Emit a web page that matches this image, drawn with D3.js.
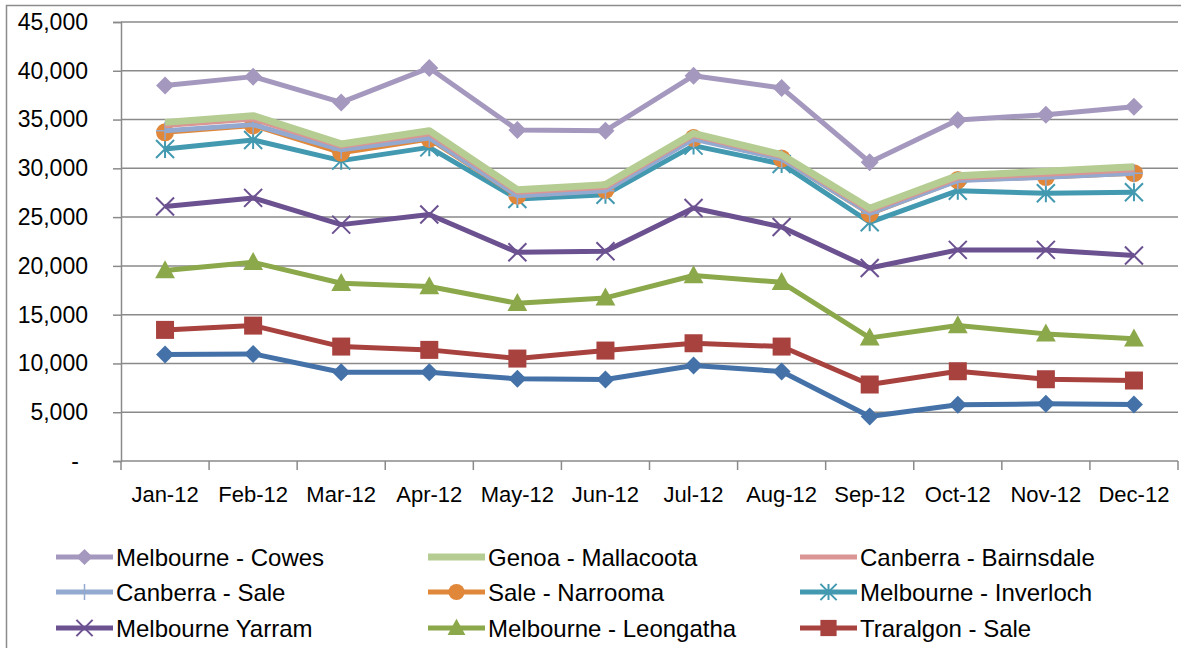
<!DOCTYPE html>
<html>
<head>
<meta charset="utf-8">
<script src="https://cdn.jsdelivr.net/npm/d3@7"></script>
<style>
  html, body { margin: 0; padding: 0; background: #fff; }
  svg { display: block; }
  text { font-family: "Liberation Sans", Arial, sans-serif; fill: #000; }
</style>
</head>
<body>
<svg id="chart" width="1181" height="648"></svg>
<script>
// Monthly figures per route, 2012
const months = ["Jan-12","Feb-12","Mar-12","Apr-12","May-12","Jun-12","Jul-12","Aug-12","Sep-12","Oct-12","Nov-12","Dec-12"];
const yTicks = [0, 5000, 10000, 15000, 20000, 25000, 30000, 35000, 40000, 45000];

const melbourneCowes      = [38480, 39400, 36760, 40290, 33930, 33860, 39500, 38240, 30620, 34960, 35500, 36320];
const genoaMallacoota     = [34710, 35400, 32500, 33860, 27810, 28330, 33590, 31400, 25900, 29250, 29690, 30170];
const canberraBairnsdale  = [34400, 35050, 32250, 33550, 27550, 28050, 33350, 31200, 25650, 29000, 29400, 29850];
const canberraSale        = [33860, 34480, 31890, 33110, 27200, 27710, 33010, 30960, 25390, 28740, 29080, 29490];
const saleNarrooma        = [33690, 34400, 31600, 33010, 27200, 27790, 33100, 31000, 25350, 28800, 29100, 29500];
const melbourneInverloch  = [31990, 32910, 30790, 32150, 26860, 27300, 32330, 30450, 24470, 27710, 27440, 27540];
const melbourneYarram     = [26080, 26970, 24230, 25260, 21390, 21500, 25930, 23990, 19790, 21640, 21640, 21060];
const melbourneLeongatha  = [19520, 20370, 18220, 17880, 16170, 16720, 19010, 18320, 12620, 13880, 13030, 12520];
const traralgonSale       = [13440, 13880, 11730, 11390, 10500, 11320, 12070, 11730, 7840, 9200, 8380, 8250];
const tenthRoute          = [10910, 10980, 9100, 9100, 8420, 8350, 9780, 9170, 4560, 5760, 5860, 5790];

// Series in legend order; the last one sits in a legend row below the visible area
const series = [
  { name: "Melbourne - Cowes",     values: melbourneCowes,     color: "#A598BE", marker: "diamond",  width: 5 },
  { name: "Genoa - Mallacoota",    values: genoaMallacoota,    color: "#B5CD92", marker: "none",     width: 7 },
  { name: "Canberra - Bairnsdale", values: canberraBairnsdale, color: "#D99694", marker: "none",     width: 5 },
  { name: "Canberra - Sale",       values: canberraSale,       color: "#93A9D0", marker: "plus",     width: 5 },
  { name: "Sale - Narrooma",       values: saleNarrooma,       color: "#E0873A", marker: "circle",   width: 5 },
  { name: "Melbourne - Inverloch", values: melbourneInverloch, color: "#4299B0", marker: "asterisk", width: 5 },
  { name: "Melbourne Yarram",      values: melbourneYarram,    color: "#6C5191", marker: "x",        width: 5 },
  { name: "Melbourne - Leongatha", values: melbourneLeongatha, color: "#8BA84B", marker: "triangle", width: 5 },
  { name: "Traralgon - Sale",      values: traralgonSale,      color: "#A8423F", marker: "square",   width: 5 },
  { name: null,                    values: tenthRoute,         color: "#4472A8", marker: "diamond",  width: 5 }
];

const svg = d3.select("#chart");
const plot = { left: 121, right: 1178, top: 22, bottom: 461 };

// Outer chart frame
svg.append("rect")
  .attr("x", 6.5).attr("y", 5.5).attr("width", 1190).attr("height", 700)
  .attr("fill", "none").attr("stroke", "#8C8C8C").attr("stroke-width", 1.5);

const x = d3.scaleBand().domain(months).range([plot.left, plot.right]).padding(0);
const y = d3.scaleLinear().domain([0, 45000]).range([plot.bottom, plot.top]);

// Horizontal gridlines
svg.append("g")
  .selectAll("line")
  .data(yTicks.filter(d => d > 0))
  .join("line")
  .attr("x1", plot.left).attr("x2", plot.right)
  .attr("y1", d => y(d)).attr("y2", d => y(d))
  .attr("stroke", "#8A8A8A").attr("stroke-width", 1.5);

// Y axis
const yAxis = d3.axisLeft(y)
  .tickValues(yTicks)
  .tickSize(8)
  .tickPadding(25)
  .tickFormat(d => d === 0 ? "-" : d3.format(",")(d));
const gy = svg.append("g").attr("transform", `translate(${plot.left},0)`).call(yAxis);
gy.select(".domain").attr("stroke", "#8A8A8A").attr("stroke-width", 1.5);
gy.selectAll(".tick line").attr("stroke", "#8A8A8A").attr("stroke-width", 1.5);
gy.selectAll(".tick text")
  .attr("font-size", 23).attr("font-family", "Liberation Sans, Arial, sans-serif")
  .attr("fill", "#000");
gy.selectAll(".tick text").filter(d => d === 0).attr("dx", -9);

// X axis: ticks at category boundaries, labels centred
const xAxisG = svg.append("g").attr("transform", `translate(0,${plot.bottom})`);
xAxisG.append("line")
  .attr("x1", plot.left).attr("x2", plot.right)
  .attr("stroke", "#8A8A8A").attr("stroke-width", 1.5);
const bounds = months.map(m => x(m)).concat([x(months[months.length - 1]) + x.bandwidth()]);
xAxisG.selectAll("line.tk")
  .data(bounds)
  .join("line").attr("class", "tk")
  .attr("x1", d => d).attr("x2", d => d).attr("y1", 0).attr("y2", 9)
  .attr("stroke", "#8A8A8A").attr("stroke-width", 1.5);
xAxisG.selectAll("text")
  .data(months)
  .join("text")
  .attr("x", d => x(d) + x.bandwidth() / 2)
  .attr("y", 41)
  .attr("text-anchor", "middle")
  .attr("font-size", 22)
  .text(d => d);

const cx = i => x(months[i]) + x.bandwidth() / 2;

// Marker drawing
function drawMarker(g, type, color, px, py, scale = 1) {
  const h = 9 * scale;
  switch (type) {
    case "diamond":
      g.append("path").attr("d", `M${px},${py - h}L${px + h},${py}L${px},${py + h}L${px - h},${py}Z`).attr("fill", color);
      break;
    case "square":
      g.append("rect").attr("x", px - h).attr("y", py - h).attr("width", 2 * h).attr("height", 2 * h).attr("fill", color);
      break;
    case "triangle":
      g.append("path").attr("d", `M${px},${py - h * 1.15}L${px + h * 1.1},${py + h * 0.85}L${px - h * 1.1},${py + h * 0.85}Z`).attr("fill", color);
      break;
    case "circle":
      g.append("circle").attr("cx", px).attr("cy", py).attr("r", h).attr("fill", color);
      break;
    case "x":
      g.append("path").attr("d", `M${px - h},${py - h}L${px + h},${py + h}M${px - h},${py + h}L${px + h},${py - h}`)
        .attr("stroke", color).attr("stroke-width", 2).attr("fill", "none");
      break;
    case "asterisk":
      g.append("path").attr("d", `M${px - h},${py - h}L${px + h},${py + h}M${px - h},${py + h}L${px + h},${py - h}M${px},${py - h}L${px},${py + h}`)
        .attr("stroke", color).attr("stroke-width", 2).attr("fill", "none");
      break;
    case "plus":
      g.append("path").attr("d", `M${px},${py - h}L${px},${py + h}M${px - h},${py}L${px + h},${py}`)
        .attr("stroke", color).attr("stroke-width", 1.5).attr("fill", "none");
      break;
  }
}

const line = d3.line().x((d, i) => cx(i)).y(d => y(d));

// Later legend entries are drawn first so the upper cluster stacks as shown
const drawOrder = series.slice().reverse();
const marks = svg.append("g");
drawOrder.forEach(s => {
  const g = marks.append("g");
  g.append("path")
    .attr("d", line(s.values))
    .attr("fill", "none")
    .attr("stroke", s.color)
    .attr("stroke-width", s.width)
    .attr("stroke-linejoin", "round");
  s.values.forEach((v, i) => drawMarker(g, s.marker, s.color, cx(i), y(v)));
});

// Legend (three columns)
const legendCols = [56, 428, 800];
const legendRows = [557, 592, 628, 663];
const legend = svg.append("g");
series.forEach((s, i) => {
  if (!s.name) return;
  const col = i % 3, row = Math.floor(i / 3);
  const lx = legendCols[col], ly = legendRows[row];
  const g = legend.append("g");
  g.append("line")
    .attr("x1", lx).attr("x2", lx + 57).attr("y1", ly).attr("y2", ly)
    .attr("stroke", s.color).attr("stroke-width", s.width);
  drawMarker(g, s.marker, s.color, lx + 28.5, ly, 0.9);
  g.append("text")
    .attr("x", lx + 60).attr("y", ly + 8.5)
    .attr("font-size", 24)
    .text(s.name);
});
</script>
</body>
</html>
